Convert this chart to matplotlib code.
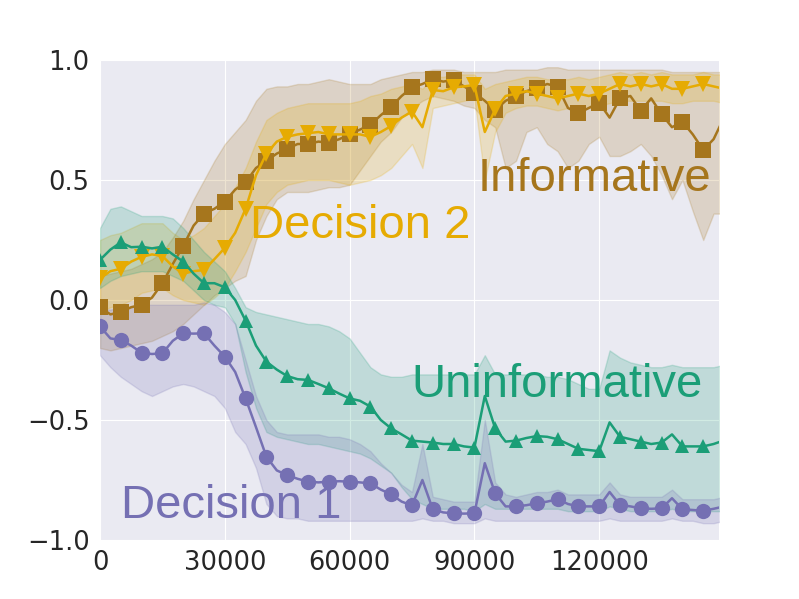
import numpy as np
import matplotlib
matplotlib.use("Agg")
import matplotlib.pyplot as plt
import seaborn as sns

sns.set_style("darkgrid")
plt.rcParams['font.family'] = ['DejaVu Sans']

steps = np.arange(0, 150001, 2500)

informative_mean = [-0.03, -0.06, -0.05, -0.03, -0.02, 0.01, 0.07, 0.15, 0.225, 0.31,
                    0.36, 0.38, 0.41, 0.46, 0.49, 0.55, 0.58, 0.61, 0.63, 0.65,
                    0.65, 0.66, 0.655, 0.67, 0.69, 0.71, 0.73, 0.77, 0.805, 0.85,
                    0.886, 0.90, 0.92, 0.91, 0.917, 0.89, 0.864, 0.83, 0.79, 0.83,
                    0.85, 0.87, 0.883, 0.90, 0.889, 0.80, 0.778, 0.80, 0.822, 0.76,
                    0.84, 0.85, 0.789, 0.84, 0.774, 0.72, 0.743, 0.69, 0.625, 0.67, 0.76]
informative_lo = [-0.20, -0.21, -0.20, -0.19, -0.18, -0.17, -0.15, -0.13, -0.10, -0.06,
                  -0.02, 0.02, 0.05, 0.08, 0.10, 0.25, 0.35, 0.42, 0.45, 0.45,
                  0.45, 0.46, 0.47, 0.47, 0.48, 0.54, 0.60, 0.66, 0.70, 0.76,
                  0.80, 0.83, 0.85, 0.84, 0.83, 0.81, 0.80, 0.75, 0.72, 0.55,
                  0.58, 0.70, 0.72, 0.65, 0.62, 0.55, 0.58, 0.65, 0.68, 0.60,
                  0.60, 0.62, 0.65, 0.60, 0.52, 0.42, 0.50, 0.37, 0.25, 0.36, 0.36]
informative_hi = [0.10, 0.11, 0.12, 0.13, 0.15, 0.17, 0.20, 0.26, 0.33, 0.42,
                  0.50, 0.58, 0.65, 0.70, 0.75, 0.83, 0.88, 0.89, 0.89, 0.90,
                  0.90, 0.91, 0.92, 0.91, 0.90, 0.90, 0.90, 0.92, 0.93, 0.94,
                  0.95, 0.95, 0.96, 0.96, 0.96, 0.95, 0.95, 0.95, 0.95, 0.96,
                  0.96, 0.96, 0.96, 0.97, 0.97, 0.96, 0.96, 0.96, 0.96, 0.96,
                  0.96, 0.96, 0.96, 0.96, 0.96, 0.95, 0.95, 0.95, 0.95, 0.95, 0.95]

decision2_mean = [0.09, 0.12, 0.13, 0.16, 0.18, 0.19, 0.183, 0.14, 0.11, 0.12,
                  0.125, 0.17, 0.217, 0.28, 0.38, 0.52, 0.61, 0.66, 0.68, 0.69,
                  0.695, 0.70, 0.69, 0.69, 0.69, 0.69, 0.68, 0.70, 0.725, 0.76,
                  0.785, 0.72, 0.875, 0.87, 0.886, 0.89, 0.896, 0.70, 0.795, 0.85,
                  0.86, 0.87, 0.86, 0.85, 0.84, 0.85, 0.86, 0.85, 0.86, 0.88,
                  0.90, 0.89, 0.90, 0.89, 0.90, 0.88, 0.88, 0.89, 0.90, 0.89, 0.88]
decision2_lo = [-0.05, -0.03, -0.02, 0.00, 0.03, 0.04, 0.05, 0.02, 0.00, -0.01,
                -0.02, 0.01, 0.05, 0.12, 0.20, 0.30, 0.40, 0.45, 0.48, 0.49,
                0.50, 0.50, 0.50, 0.49, 0.48, 0.49, 0.50, 0.52, 0.55, 0.60,
                0.65, 0.55, 0.80, 0.81, 0.82, 0.83, 0.84, 0.50, 0.70, 0.78,
                0.80, 0.81, 0.81, 0.80, 0.79, 0.80, 0.80, 0.80, 0.81, 0.82,
                0.83, 0.83, 0.83, 0.83, 0.83, 0.82, 0.82, 0.83, 0.83, 0.83, 0.82]
decision2_hi = [0.25, 0.27, 0.28, 0.30, 0.32, 0.32, 0.32, 0.28, 0.25, 0.27,
                0.30, 0.35, 0.40, 0.47, 0.55, 0.66, 0.75, 0.78, 0.80, 0.81,
                0.82, 0.82, 0.82, 0.82, 0.82, 0.83, 0.85, 0.86, 0.88, 0.89,
                0.90, 0.88, 0.93, 0.93, 0.94, 0.94, 0.94, 0.88, 0.90, 0.91,
                0.92, 0.93, 0.93, 0.92, 0.92, 0.92, 0.93, 0.92, 0.93, 0.94,
                0.95, 0.94, 0.95, 0.94, 0.95, 0.94, 0.94, 0.94, 0.95, 0.94, 0.94]

uninformative_mean = [0.167, 0.21, 0.24, 0.22, 0.222, 0.215, 0.222, 0.19, 0.16, 0.11,
                      0.07, 0.07, 0.053, 0.0, -0.086, -0.19, -0.257, -0.29, -0.317, -0.33,
                      -0.333, -0.35, -0.368, -0.39, -0.41, -0.42, -0.444, -0.50, -0.535, -0.56,
                      -0.586, -0.59, -0.594, -0.60, -0.60, -0.61, -0.615, -0.40, -0.535, -0.59,
                      -0.586, -0.575, -0.567, -0.57, -0.58, -0.60, -0.62, -0.625, -0.63, -0.51,
                      -0.57, -0.58, -0.59, -0.60, -0.594, -0.56, -0.61, -0.61, -0.61, -0.60, -0.585]
uninformative_lo = [0.05, 0.08, 0.10, 0.11, 0.12, 0.12, 0.12, 0.10, 0.08, 0.04,
                    0.00, -0.02, -0.03, -0.10, -0.30, -0.45, -0.55, -0.57, -0.58, -0.59,
                    -0.60, -0.60, -0.61, -0.62, -0.63, -0.64, -0.66, -0.69, -0.72, -0.78,
                    -0.83, -0.85, -0.87, -0.87, -0.87, -0.87, -0.88, -0.85, -0.87, -0.87,
                    -0.87, -0.87, -0.87, -0.87, -0.87, -0.88, -0.88, -0.88, -0.88, -0.86,
                    -0.87, -0.88, -0.88, -0.88, -0.88, -0.87, -0.88, -0.88, -0.88, -0.88, -0.88]
uninformative_hi = [0.30, 0.38, 0.39, 0.37, 0.35, 0.35, 0.35, 0.34, 0.30, 0.25,
                    0.20, 0.16, 0.12, 0.05, -0.03, -0.05, -0.06, -0.07, -0.08, -0.09,
                    -0.10, -0.10, -0.11, -0.13, -0.16, -0.22, -0.28, -0.31, -0.32, -0.32,
                    -0.31, -0.31, -0.31, -0.31, -0.31, -0.31, -0.31, -0.23, -0.31, -0.31,
                    -0.31, -0.31, -0.31, -0.32, -0.32, -0.33, -0.35, -0.37, -0.37, -0.21,
                    -0.24, -0.26, -0.27, -0.28, -0.28, -0.27, -0.28, -0.28, -0.28, -0.28, -0.27]

decision1_mean = [-0.11, -0.16, -0.167, -0.19, -0.22, -0.225, -0.222, -0.17, -0.139, -0.14,
                  -0.139, -0.19, -0.236, -0.30, -0.41, -0.53, -0.653, -0.71, -0.73, -0.745,
                  -0.757, -0.76, -0.757, -0.755, -0.757, -0.76, -0.764, -0.79, -0.81, -0.84,
                  -0.856, -0.75, -0.872, -0.885, -0.889, -0.89, -0.889, -0.68, -0.806, -0.86,
                  -0.86, -0.855, -0.847, -0.84, -0.83, -0.85, -0.86, -0.86, -0.86, -0.80,
                  -0.854, -0.86, -0.868, -0.87, -0.868, -0.826, -0.872, -0.875, -0.878, -0.87, -0.86]
decision1_lo = [-0.23, -0.28, -0.32, -0.35, -0.38, -0.40, -0.38, -0.36, -0.35, -0.36,
                -0.38, -0.40, -0.45, -0.55, -0.60, -0.70, -0.85, -0.90, -0.91, -0.91,
                -0.92, -0.92, -0.92, -0.92, -0.92, -0.92, -0.92, -0.92, -0.92, -0.92,
                -0.92, -0.91, -0.92, -0.92, -0.93, -0.93, -0.93, -0.91, -0.92, -0.92,
                -0.92, -0.92, -0.92, -0.92, -0.92, -0.92, -0.92, -0.92, -0.92, -0.91,
                -0.92, -0.92, -0.92, -0.92, -0.92, -0.91, -0.92, -0.92, -0.93, -0.93, -0.92]
decision1_hi = [-0.04, -0.04, -0.03, -0.03, -0.02, -0.02, -0.02, -0.02, -0.02, -0.02,
                -0.01, -0.02, -0.05, -0.10, -0.25, -0.40, -0.50, -0.55, -0.56, -0.56,
                -0.56, -0.56, -0.57, -0.57, -0.58, -0.60, -0.63, -0.68, -0.72, -0.77,
                -0.80, -0.60, -0.82, -0.83, -0.84, -0.84, -0.84, -0.50, -0.76, -0.81,
                -0.82, -0.81, -0.80, -0.80, -0.79, -0.81, -0.81, -0.81, -0.81, -0.76,
                -0.81, -0.82, -0.82, -0.82, -0.82, -0.79, -0.83, -0.83, -0.83, -0.83, -0.82]

series = [
    ("Informative", informative_mean, informative_lo, informative_hi, "#a6761d", "s", 11),
    ("Decision 2", decision2_mean, decision2_lo, decision2_hi, "#e6ab02", "v", 11),
    ("Uninformative", uninformative_mean, uninformative_lo, uninformative_hi, "#1b9e77", "^", 10),
    ("Decision 1", decision1_mean, decision1_lo, decision1_hi, "#7570b3", "o", 11),
]

fig = plt.figure(figsize=(7.99, 5.99), dpi=100)
ax = fig.add_axes([100/799, 1 - 540/599, 619/799, 480/599])

for name, m, lo, hi, c, mk, ms in series:
    ax.fill_between(steps, lo, hi, color=c, alpha=0.2, linewidth=1, edgecolor=c)
for name, m, lo, hi, c, mk, ms in series:
    ax.plot(steps, m, color=c, lw=1.8, marker=mk, markersize=ms,
            markevery=slice(0, 60, 2), markeredgewidth=0)

ax.set_xlim(0, 148800)
ax.set_ylim(-1.0, 1.0)
ax.set_xticks([0, 30000, 60000, 90000, 120000])
ax.set_yticks([-1.0, -0.5, 0.0, 0.5, 1.0])
ax.set_yticklabels(["\u22121.0", "\u22120.5", "0.0", "0.5", "1.0"])
ax.tick_params(labelsize=18.5, colors="#262626", pad=4)
for sp in ax.spines.values():
    sp.set_visible(False)

lab_font = dict(family="Liberation Sans", fontsize=34, ha="center", va="center")
ax.text(118800, 0.505, "Informative", color="#a6761d", **lab_font)
ax.text(62500, 0.31, "Decision 2", color="#e6ab02", **lab_font)
ax.text(109800, -0.355, "Uninformative", color="#1b9e77", **lab_font)
ax.text(31600, -0.86, "Decision 1", color="#7570b3", **lab_font)

fig.savefig("out.png", dpi=100, facecolor="white")
